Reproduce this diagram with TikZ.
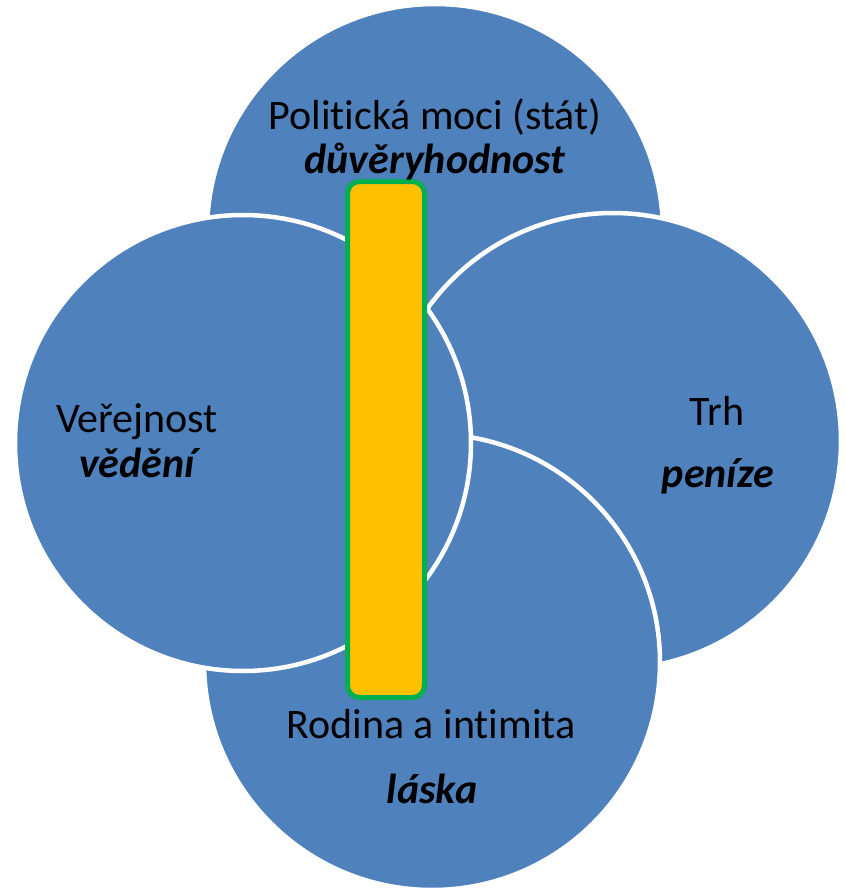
\documentclass[tikz,border=0pt]{standalone}
\usepackage{fontspec}
\setmainfont{Carlito}[Ligatures=NoCommon]
\begin{document}
\begin{tikzpicture}[x=1pt,y=-1pt,
  sphere/.style={circle,minimum size=456pt,inner sep=0pt,fill=officeblue,draw=white,line width=4.5pt},
  title/.style={font=\fontsize{42}{45}\selectfont,anchor=base},
  value/.style={font=\fontsize{42}{45}\selectfont\bfseries\itshape,anchor=base}]
\definecolor{officeblue}{HTML}{4F81BD}
\definecolor{amber}{HTML}{FFC000}
\definecolor{leafgreen}{HTML}{00B050}
\useasboundingbox (0,0) rectangle (844,889);
  \foreach \area/\x/\y in {stat/435/232,trh/613/441,rodina/432/662,verejnost/243/443}
  {  \node [sphere] (\area) at (\x,\y) {};}
\node [draw=leafgreen,fill=amber,line width=5pt,rounded corners=12pt,minimum width=77pt,minimum height=516pt,inner sep=0pt] (bar) at (386,439.5) {};
\node [title] (statname) at (435,129) {Politická moci (stát)};
\node [value] (statvalue) at (435,173) {důvěryhodnost};
\node [title] (verejnostname) at (137,432) {Veřejnost};
\node [value] (verejnostvalue) at (137,477) {vědění};
\node [title] (trhname) at (717,425) {Trh};
\node [value] (trhvalue) at (718,487) {peníze};
\node [title] (rodinaname) at (431,738) {Rodina a intimita};
\node [value] (rodinavalue) at (432,803) {láska};
\end{tikzpicture}
\end{document}
